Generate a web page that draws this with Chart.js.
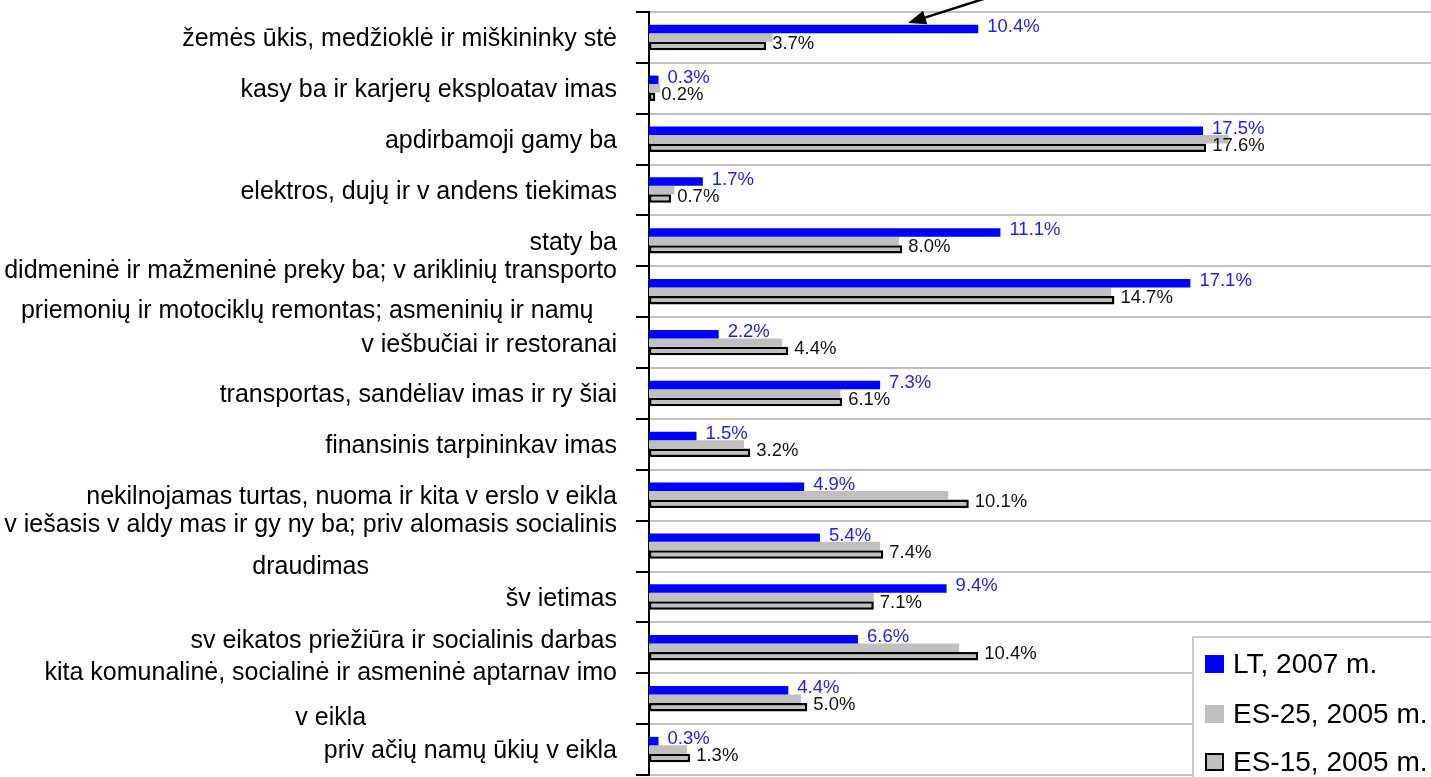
<!DOCTYPE html>
<html><head><meta charset="utf-8">
<script src="https://cdn.jsdelivr.net/npm/chart.js@4.4.0/dist/chart.umd.min.js"></script>
<style>html,body{margin:0;padding:0;background:#fff;overflow:hidden}#wrap{position:relative;width:1431px;height:777px}</style>
</head><body><div id="wrap"><canvas id="c" width="1431" height="777"></canvas></div>
<script>
const categories = [
  ['žemės ūkis, medžioklė ir miškininky stė'],
  ['kasy ba ir karjerų eksploatav imas'],
  ['apdirbamoji gamy ba'],
  ['elektros, dujų ir v andens tiekimas'],
  ['staty ba'],
  ['didmeninė ir mažmeninė preky ba; v ariklinių transporto', 'priemonių ir motociklų remontas; asmeninių ir namų '],
  ['v iešbučiai ir restoranai'],
  ['transportas, sandėliav imas ir ry šiai'],
  ['finansinis tarpininkav imas'],
  ['nekilnojamas turtas, nuoma ir kita v erslo v eikla'],
  ['v iešasis v aldy mas ir gy ny ba; priv alomasis socialinis', 'draudimas'],
  ['šv ietimas'],
  ['sv eikatos priežiūra ir socialinis darbas'],
  ['kita komunalinė, socialinė ir asmeninė aptarnav imo', 'v eikla'],
  ['priv ačių namų ūkių v eikla']
];
const seriesNames = ['LT, 2007 m.', 'ES-25, 2005 m.', 'ES-15, 2005 m.'];
const lt2007 = [10.4, 0.3, 17.5, 1.7, 11.1, 17.1, 2.2, 7.3, 1.5, 4.9, 5.4, 9.4, 6.6, 4.4, 0.3];
const es25 = [3.9, 0.35, 18.3, 0.8, 7.9, 14.6, 4.2, 6.05, 3.0, 9.45, 7.3, 7.1, 9.8, 4.8, 1.2];
const es15 = [3.7, 0.2, 17.6, 0.7, 8.0, 14.7, 4.4, 6.1, 3.2, 10.1, 7.4, 7.1, 10.4, 5.0, 1.3];

// layout (style) for category label lines: offsets from the category centre
const labelLineOffsets = {5: [-21, 19], 10: [-21, 21], 12: [-7], 13: [-26, 19]};
const defaultLineOffset = [2];

const catLabelPlugin = {
  id: 'catLabels',
  afterDraw(chart) {
    const ctx = chart.ctx, ys = chart.scales.y;
    const R = chart.chartArea.left - 32;
    ctx.save();
    ctx.font = '25px "Liberation Sans", Arial, sans-serif';
    ctx.fillStyle = '#000';
    ctx.textBaseline = 'middle';
    ctx.textAlign = 'center';
    chart.data.labels.forEach((lines, i) => {
      const cy = ys.getPixelForValue(i);
      const offs = labelLineOffsets[i] || defaultLineOffset;
      const W = Math.max(...lines.map(l => ctx.measureText(l).width));
      const cx = R - W / 2;
      lines.forEach((l, k) => ctx.fillText(l, cx, cy + offs[k]));
    });
    ctx.restore();
  }
};

const valueLabelPlugin = {
  id: 'valueLabels',
  afterDatasetsDraw(chart) {
    const ctx = chart.ctx;
    ctx.save();
    ctx.font = '18.5px "Liberation Sans", Arial, sans-serif';
    ctx.textBaseline = 'alphabetic';
    ctx.textAlign = 'left';
    [[0, '#1c1cff', 9], [2, '#111', 6]].forEach(([di, col, gap]) => {
      const meta = chart.getDatasetMeta(di);
      const vals = chart.data.datasets[di].data;
      ctx.fillStyle = col;
      meta.data.forEach((el, i) => {
        ctx.fillText(vals[i].toFixed(1) + '%', el.x + gap, el.y + 3);
      });
    });
    ctx.restore();
  }
};

const legendArrowPlugin = {
  id: 'legendArrow',
  afterDraw(chart) {
    const ctx = chart.ctx;
    ctx.save();
    const bx = 1193, by = 637;
    ctx.fillStyle = '#fff';
    ctx.fillRect(bx, by, chart.width - bx + 5, chart.height - by + 5);
    ctx.strokeStyle = '#c8c8c8';
    ctx.lineWidth = 2;
    ctx.strokeRect(bx, by, chart.width - bx + 10, chart.height - by + 10);
    ctx.font = '28px "Liberation Sans", Arial, sans-serif';
    ctx.textBaseline = 'middle';
    ctx.textAlign = 'left';
    const itemY = [664, 714, 762];
    chart.data.datasets.forEach((ds, i) => {
      const y = itemY[i];
      ctx.fillStyle = ds.backgroundColor;
      ctx.fillRect(1205, y - 9, 19, 18);
      if (ds.borderWidth) {
        ctx.strokeStyle = ds.borderColor;
        ctx.lineWidth = 2;
        ctx.strokeRect(1206, y - 8, 17, 16);
      }
      ctx.fillStyle = '#000';
      ctx.fillText(ds.label, 1233, y + 1);
    });
    const tx = 908, ty = 23, sx = 1040, sy = -19;
    const ang = Math.atan2(ty - sy, tx - sx);
    ctx.strokeStyle = '#000';
    ctx.fillStyle = '#000';
    ctx.lineWidth = 2.5;
    ctx.beginPath();
    ctx.moveTo(sx, sy);
    ctx.lineTo(tx - 12 * Math.cos(ang), ty - 12 * Math.sin(ang));
    ctx.stroke();
    ctx.beginPath();
    ctx.moveTo(tx, ty);
    ctx.lineTo(tx - 18 * Math.cos(ang) + 7 * Math.sin(ang), ty - 18 * Math.sin(ang) - 7 * Math.cos(ang));
    ctx.lineTo(tx - 18 * Math.cos(ang) - 7 * Math.sin(ang), ty - 18 * Math.sin(ang) + 7 * Math.cos(ang));
    ctx.closePath();
    ctx.fill();
    ctx.restore();
  }
};

new Chart(document.getElementById('c'), {
  type: 'bar',
  data: {
    labels: categories,
    datasets: [
      {label: seriesNames[0], data: lt2007, backgroundColor: '#0000ff', borderWidth: 0},
      {label: seriesNames[1], data: es25, backgroundColor: '#c0c0c0', borderWidth: 0},
      {label: seriesNames[2], data: es15, backgroundColor: '#c0c0c0', borderColor: '#000', borderWidth: 2.5, borderSkipped: false}
    ]
  },
  options: {
    indexAxis: 'y',
    responsive: false,
    animation: false,
    devicePixelRatio: 1,
    categoryPercentage: 0.5,
    barPercentage: 1.0,
    layout: {padding: {top: 12, bottom: 2, left: 0, right: 0}},
    plugins: {legend: {display: false}, tooltip: {enabled: false}},
    scales: {
      x: {display: false, min: 0, max: 24.7},
      y: {
        offset: true,
        grid: {offset: true, color: '#c0c0c0', lineWidth: 2, tickColor: '#000', tickLength: 13, tickWidth: 2, drawTicks: true},
        border: {display: true, color: '#000', width: 2},
        ticks: {display: false},
        afterFit: s => { s.width = 649; }
      }
    }
  },
  plugins: [catLabelPlugin, valueLabelPlugin, legendArrowPlugin]
});
</script>
</body></html>
